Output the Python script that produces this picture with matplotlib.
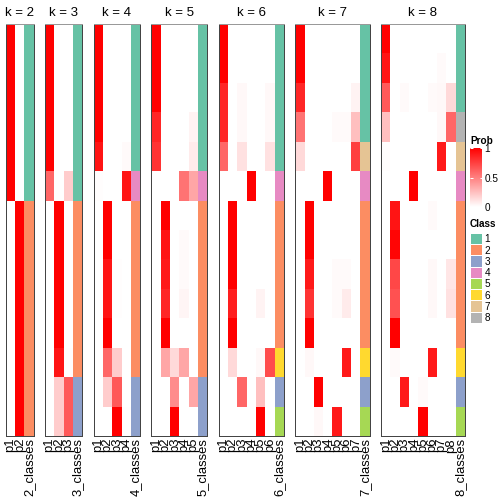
import matplotlib
matplotlib.use("Agg")
import matplotlib.pyplot as plt
import numpy as np
from matplotlib.colors import LinearSegmentedColormap, ListedColormap, BoundaryNorm, Normalize
from matplotlib.cm import ScalarMappable

plt.rcParams['font.family'] = ['Liberation Sans', 'DejaVu Sans']

# class memberships of the 14 samples for each k
ks = [2, 3, 4, 5, 6, 7, 8]
classes_k2 = [1, 1, 1, 1, 1, 1, 2, 2, 2, 2, 2, 2, 2, 2]
classes_k3 = [1, 1, 1, 1, 1, 1, 2, 2, 2, 2, 2, 2, 3, 3]
classes_k4 = [1, 1, 1, 1, 1, 4, 2, 2, 2, 2, 2, 2, 3, 3]
classes_k5 = [1, 1, 1, 1, 1, 4, 2, 2, 2, 2, 2, 2, 3, 3]
classes_k6 = [1, 1, 1, 1, 1, 4, 2, 2, 2, 2, 2, 6, 3, 5]
classes_k7 = [1, 1, 1, 1, 7, 4, 2, 2, 2, 2, 2, 6, 3, 5]
classes_k8 = [1, 1, 1, 8, 7, 4, 2, 2, 2, 2, 2, 6, 3, 5]

# membership probabilities p1..pk per sample
prob_k2 = [[1, 0]] * 6 + [[0, 1]] * 8
prob_k3 = [[1, 0, 0]] * 5 + [[0.6, 0, 0.2]] + [[0, 1, 0]] * 5 + \
          [[0, 0.92, 0.01]] + [[0, 0.2, 0.65]] * 2
prob_k4 = [[1, 0, 0, 0]] * 4 + [
    [0.92, 0, 0, 0.02],
    [0.01, 0, 0, 0.92],
    [0, 1, 0, 0],
    [0, 1, 0, 0],
    [0, 0.92, 0.01, 0],
    [0, 0.92, 0.01, 0],
    [0, 1, 0, 0],
    [0, 0.6, 0.2, 0],
    [0, 0.2, 0.65, 0],
    [0, 0, 1, 0.01],
]
prob_k5 = [[1, 0, 0, 0, 0]] * 3 + [
    [0.85, 0, 0, 0, 0.05],
    [0.8, 0, 0, 0, 0.08],
    [0, 0, 0, 0.55, 0.35],
    [0, 1, 0, 0, 0],
    [0, 0.92, 0, 0.02, 0],
    [0, 0.9, 0, 0.02, 0],
    [0, 0.85, 0, 0.04, 0],
    [0, 1, 0, 0, 0],
    [0, 0.35, 0.15, 0.35, 0],
    [0, 0, 0.45, 0, 0.35],
    [0, 0, 1, 0, 0],
]
prob_k6 = [[1, 0, 0, 0, 0, 0]] * 2 + [
    [0.85, 0, 0.03, 0, 0, 0.03],
    [0.85, 0, 0.03, 0, 0, 0.03],
    [0.6, 0, 0.12, 0, 0, 0.12],
    [0, 0, 0, 1, 0, 0],
    [0, 1, 0, 0, 0, 0],
    [0, 1, 0, 0, 0, 0],
    [0, 1, 0, 0, 0, 0],
    [0, 0.88, 0, 0, 0.05, 0],
    [0, 1, 0, 0, 0, 0],
    [0, 0.15, 0, 0, 0.03, 0.7],
    [0, 0, 0.6, 0, 0.25, 0],
    [0, 0, 0, 0, 1, 0],
]
prob_k7 = [[1, 0, 0, 0, 0, 0, 0]] * 2 + [
    [0.85, 0, 0, 0, 0, 0, 0.05],
    [0.55, 0, 0, 0, 0.02, 0.02, 0.25],
    [0.15, 0, 0, 0, 0, 0, 0.75],
    [0, 0, 0, 1, 0, 0, 0],
    [0, 1, 0, 0, 0, 0, 0],
    [0, 1, 0, 0, 0, 0, 0],
    [0, 0.9, 0, 0, 0.02, 0.02, 0],
    [0, 0.8, 0, 0, 0.02, 0.08, 0],
    [0, 1, 0, 0, 0, 0, 0],
    [0, 0.03, 0, 0, 0, 0.9, 0],
    [0, 0, 1, 0, 0, 0, 0],
    [0, 0, 0.03, 0, 0.9, 0, 0],
]
prob_k8 = [
    [1, 0, 0, 0, 0, 0, 0, 0],
    [0.92, 0, 0, 0, 0, 0, 0.02, 0],
    [0.65, 0, 0.02, 0, 0, 0.02, 0.03, 0.15],
    [0.25, 0, 0, 0, 0, 0, 0.03, 0.6],
    [0.01, 0, 0, 0, 0, 0, 0.9, 0],
    [0, 0, 0, 1, 0, 0, 0, 0],
    [0, 0.92, 0, 0, 0, 0.02, 0, 0],
    [0, 0.98, 0, 0, 0, 0, 0, 0],
    [0, 0.72, 0, 0, 0, 0.03, 0, 0.1],
    [0, 0.68, 0, 0, 0, 0.03, 0, 0.12],
    [0, 1, 0, 0, 0, 0, 0, 0],
    [0, 0.02, 0, 0, 0, 0.9, 0, 0],
    [0, 0, 0.9, 0, 0.02, 0, 0, 0],
    [0, 0, 0, 0, 1, 0, 0, 0],
]

all_classes = [classes_k2, classes_k3, classes_k4, classes_k5,
               classes_k6, classes_k7, classes_k8]
all_probs = [prob_k2, prob_k3, prob_k4, prob_k5, prob_k6, prob_k7, prob_k8]

class_labels = ['1', '2', '3', '4', '5', '6', '7', '8']
class_colors = ['#66C2A5', '#FC8D62', '#8DA0CB', '#E78AC3',
                '#A6D854', '#FFD92F', '#E5C494', '#B3B3B3']
prob_ticks = [0, 0.5, 1]

W = H = 504
fig = plt.figure(figsize=(7, 7), dpi=72)

prob_cmap = LinearSegmentedColormap.from_list('prob', ['white', 'red'])
class_cmap = ListedColormap(class_colors)
class_norm = BoundaryNorm(np.arange(0.5, 9.5, 1), 8)


def px_axes(x0, y0, x1, y1):
    # axes from pixel box (origin top-left)
    return fig.add_axes([x0 / W, 1 - y1 / H, (x1 - x0) / W, (y1 - y0) / H])


top, bottom = 24, 436
col_w = 9.32
gap = 11.3
x = 5.7
for k, cls, prob in zip(ks, all_classes, all_probs):
    width = (k + 1) * col_w
    ax = px_axes(x, top, x + width, bottom)
    p = np.array(prob, dtype=float)
    n = p.shape[0]
    ax.pcolormesh(np.arange(k + 1), np.arange(n + 1), p,
                  cmap=prob_cmap, vmin=0, vmax=1)
    ax.pcolormesh([k, k + 1], np.arange(n + 1), np.array(cls).reshape(-1, 1),
                  cmap=class_cmap, norm=class_norm)
    ax.set_xlim(0, k + 1)
    ax.set_ylim(n, 0)
    ax.set_yticks([])
    ax.set_xticks(np.arange(k + 1) + 0.5)
    ax.set_xticklabels([f'p{i + 1}' for i in range(k)] + [f'{k}_classes'],
                       rotation=90, fontsize=13)
    ax.tick_params(axis='x', length=0, pad=2)
    for s in ax.spines.values():
        s.set_color('#444444')
        s.set_linewidth(1)
    ax.spines['top'].set_color('#999999')
    fig.text((x + width / 2) / W, 1 - 15.5 / H, f'k = {k}',
             ha='center', va='baseline', fontsize=13.2)
    x += width + gap

# Prob legend
fig.text(470 / W, 1 - 141 / H, 'Prob', fontsize=10, fontweight='bold',
         ha='left', va='center')
cax = px_axes(470, 148, 481.7, 207)
cb = fig.colorbar(ScalarMappable(norm=Normalize(0, 1), cmap=prob_cmap), cax=cax)
cb.outline.set_visible(False)
cb.set_ticks(prob_ticks)
cb.set_ticklabels(['0', '0.5', '1'])
cax.tick_params(labelsize=10, direction='in', color='white', length=2.5,
                width=1, left=True, right=True, pad=3)

# Class legend
fig.text(470 / W, 1 - 224 / H, 'Class', fontsize=10, fontweight='bold',
         ha='left', va='center')
lax = px_axes(470, 232.7, 481.7, 323)
vals = np.arange(1, 9).reshape(-1, 1)
lax.pcolormesh([0, 1], np.arange(9), vals, cmap=class_cmap, norm=class_norm,
               edgecolors='white', linewidth=0.8)
lax.set_xlim(0, 1)
lax.set_ylim(8, 0)
lax.set_xticks([])
lax.yaxis.tick_right()
lax.set_yticks(np.arange(8) + 0.5)
lax.set_yticklabels(class_labels, fontsize=10)
lax.tick_params(axis='y', length=0, pad=3)
for s in lax.spines.values():
    s.set_visible(False)

fig.savefig('out.png', dpi=72)
